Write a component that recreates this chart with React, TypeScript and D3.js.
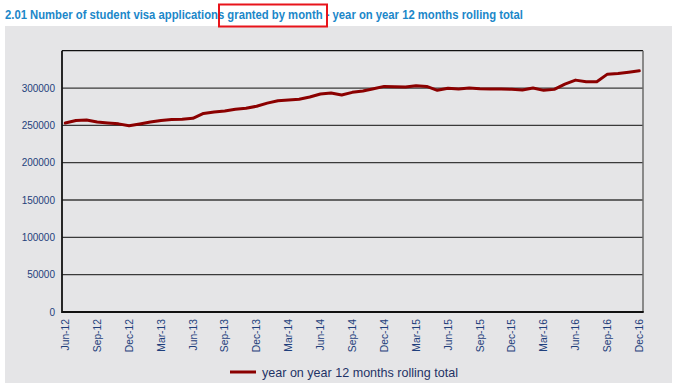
import * as d3 from 'd3';
import React, { useRef, useEffect } from 'react';

const months = [
  "Jun-12", "Jul-12", "Aug-12", "Sep-12", "Oct-12", "Nov-12", "Dec-12",
  "Jan-13", "Feb-13", "Mar-13", "Apr-13", "May-13", "Jun-13", "Jul-13", "Aug-13", "Sep-13", "Oct-13", "Nov-13", "Dec-13",
  "Jan-14", "Feb-14", "Mar-14", "Apr-14", "May-14", "Jun-14", "Jul-14", "Aug-14", "Sep-14", "Oct-14", "Nov-14", "Dec-14",
  "Jan-15", "Feb-15", "Mar-15", "Apr-15", "May-15", "Jun-15", "Jul-15", "Aug-15", "Sep-15", "Oct-15", "Nov-15", "Dec-15",
  "Jan-16", "Feb-16", "Mar-16", "Apr-16", "May-16", "Jun-16", "Jul-16", "Aug-16", "Sep-16", "Oct-16", "Nov-16", "Dec-16"
]

// year on year 12 months rolling total
const rolling = [
  253100, 256400, 257100, 254600, 253300, 252000, 249400,
  251800, 254400, 256600, 257700, 258200, 259400, 266000, 268000, 269300, 271500, 273000, 275600,
  279800, 283000, 284000, 285000, 288000, 292000, 293400, 290600, 294200, 296000, 299100, 302200,
  301800, 301300, 303100, 302200, 296900, 299600, 298700, 300000, 299100, 298700, 298700, 298200,
  297300, 300000, 296900, 298200, 305300, 310600, 308400, 308400, 318600, 319500, 321200, 323000
]

const yTicks = [0, 50000, 100000, 150000, 200000, 250000, 300000]
const xTickLabels = months.filter((m, i) => i % 3 === 0)

const title = "2.01 Number of student visa applications granted by month - year on year 12 months rolling total"
const legendLabel = "year on year 12 months rolling total"

const width = 673
const height = 387
const plot = { left: 62, right: 643, top: 50.7, bottom: 312 }

function LineChart() {
  const ref = useRef(null);

  useEffect(() => {
    const svg = d3.select(ref.current)
    svg.selectAll('*').remove()

    svg.append("rect")
      .attr("x", 5).attr("y", 26)
      .attr("width", 667).attr("height", 357)
      .attr("fill", "#e5e5e7")

    // title
    svg.append("text")
      .attr("x", 5).attr("y", 18.5)
      .attr("font-family", "Liberation Sans Narrow, Arial Narrow, Liberation Sans, sans-serif")
      .attr("font-weight", "bold")
      .attr("font-size", 12)
      .attr("fill", "#1b87c9")
      .attr("textLength", 518)
      .attr("lengthAdjust", "spacingAndGlyphs")
      .text(title)

    svg.append("rect")
      .attr("x", 219).attr("y", 4.5)
      .attr("width", 108).attr("height", 22)
      .attr("fill", "none")
      .attr("stroke", "#e8141b")
      .attr("stroke-width", 2)

    var x = d3.scalePoint()
      .domain(months)
      .range([65.3, 639.3])

    var y = d3.scaleLinear()
      .domain([0, 350000])
      .range([plot.bottom, plot.top])

    // gridlines
    svg.append("g")
      .selectAll("line")
      .data(yTicks.filter(d => d > 0))
      .enter()
      .append("line")
      .attr("x1", plot.left).attr("x2", plot.right)
      .attr("y1", d => y(d)).attr("y2", d => y(d))
      .attr("stroke", "#3a3a3a")
      .attr("stroke-width", 1.3)

    // frame
    svg.append("line")
      .attr("x1", plot.left).attr("x2", plot.right)
      .attr("y1", y(350000)).attr("y2", y(350000))
      .attr("stroke", "#111").attr("stroke-width", 1.3)
    svg.append("line")
      .attr("x1", plot.right).attr("x2", plot.right)
      .attr("y1", plot.top).attr("y2", plot.bottom)
      .attr("stroke", "#6a6a6a").attr("stroke-width", 1.5)
    svg.append("line")
      .attr("x1", plot.left).attr("x2", plot.left)
      .attr("y1", plot.top).attr("y2", plot.bottom + 1)
      .attr("stroke", "#111").attr("stroke-width", 1.8)
    svg.append("line")
      .attr("x1", plot.left).attr("x2", plot.right + 0.7)
      .attr("y1", plot.bottom).attr("y2", plot.bottom)
      .attr("stroke", "#111").attr("stroke-width", 2)

    // y axis labels
    svg.append("g")
      .selectAll("text")
      .data(yTicks)
      .enter()
      .append("text")
      .attr("x", 55)
      .attr("y", d => y(d))
      .attr("dy", "0.36em")
      .attr("text-anchor", "end")
      .attr("font-family", "Liberation Sans, Arial, sans-serif")
      .attr("font-size", 10)
      .attr("fill", "#1f3f7c")
      .text(d => d)

    // x axis labels
    svg.append("g")
      .selectAll("text")
      .data(xTickLabels)
      .enter()
      .append("text")
      .attr("transform", d => `translate(${x(d)},${plot.bottom + 7}) rotate(-90)`)
      .attr("dy", "0.36em")
      .attr("text-anchor", "end")
      .attr("font-family", "Liberation Sans, Arial, sans-serif")
      .attr("font-size", 10.3)
      .attr("fill", "#1f3f7c")
      .text(d => d)

    // line
    var line = d3.line()
      .x((d, i) => x(months[i]))
      .y(d => y(d))

    svg.append("path")
      .datum(rolling)
      .attr("d", line)
      .attr("fill", "none")
      .attr("stroke", "#8b0000")
      .attr("stroke-width", 3)
      .attr("stroke-linejoin", "round")
      .attr("stroke-linecap", "round")

    // legend
    svg.append("line")
      .attr("x1", 230).attr("x2", 256)
      .attr("y1", 372).attr("y2", 372)
      .attr("stroke", "#8b0000")
      .attr("stroke-width", 3)
    svg.append("text")
      .attr("x", 262).attr("y", 372)
      .attr("dy", "0.36em")
      .attr("font-family", "Liberation Sans, Arial, sans-serif")
      .attr("font-size", 12.8)
      .attr("fill", "#1f3366")
      .attr("textLength", 196)
      .attr("lengthAdjust", "spacingAndGlyphs")
      .text(legendLabel)
  })

  return (
    <svg ref={ref} width={width} height={height}
      style={{ position: "absolute", left: 0, top: 0, background: "#fff" }}>
    </svg>
  )
}

export default function App() {
  return <LineChart />
}
